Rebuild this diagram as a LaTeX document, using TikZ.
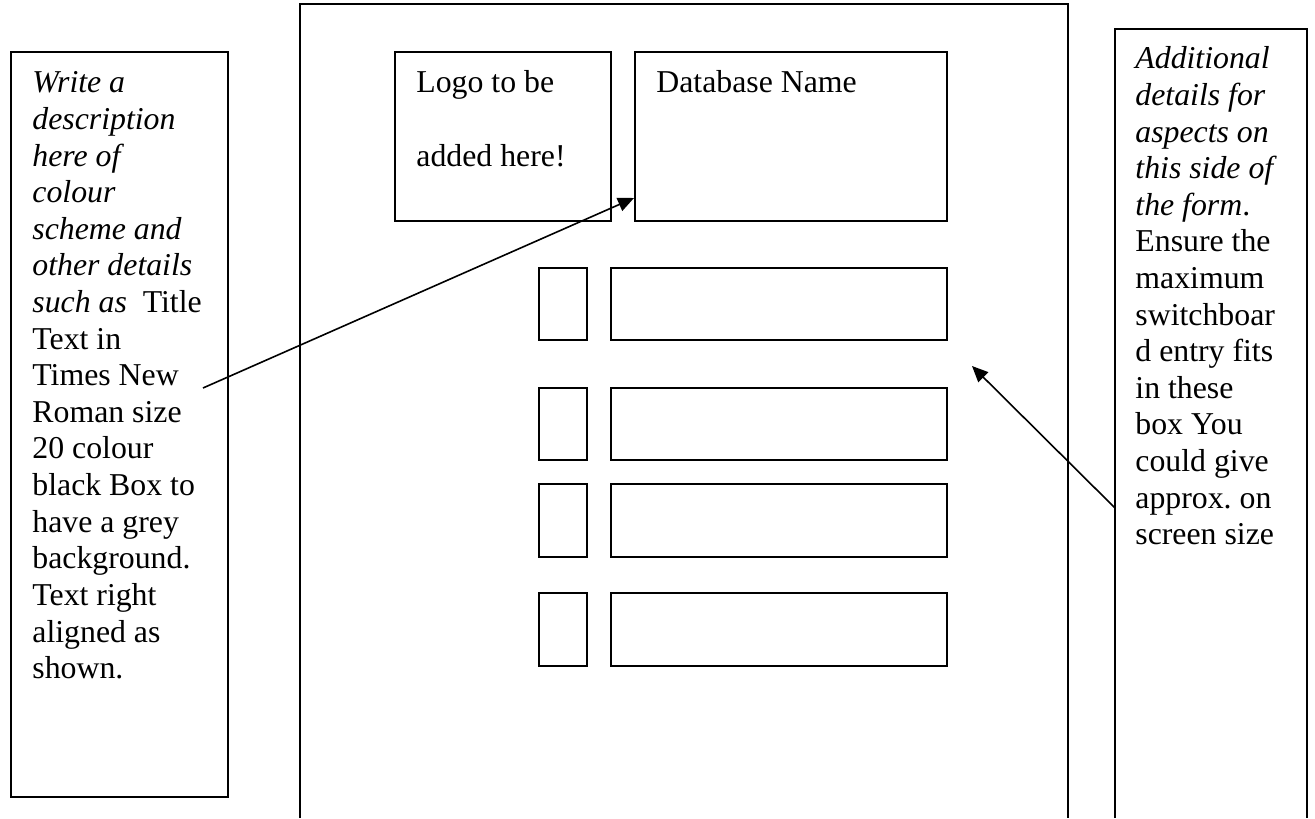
\documentclass[tikz,border=0pt]{standalone}
\usepackage{fontspec}
\setmainfont{Liberation Serif}
\usetikzlibrary{arrows.meta,calc}
\frenchspacing
\newcommand\txtblk[1]{\vtop{\hsize=400pt\parindent=0pt\fontsize{15.9pt}{18.3pt}\selectfont #1\par}}
\newcommand\txtdbl[1]{\vtop{\hsize=400pt\parindent=0pt\fontsize{15.9pt}{36.8pt}\selectfont #1\par}}
\begin{document}
\begin{tikzpicture}[x=0.5pt,y=-0.5pt,
  box/.style={draw, line width=0.9pt, inner sep=0pt, outer sep=0pt, anchor=north west},
  frame/.style={draw, line width=0.9pt},
  conn/.style={line width=0.8pt, -{Triangle[length=8pt,width=7pt]}},
  txt/.style={inner sep=0pt, anchor=base west}]
\useasboundingbox (0,0) rectangle (1315,818);
% outer frames
\draw[frame] (300,818) |- (1068,4) -- (1068,818);
\draw[frame] (1115,818) |- (1307,29) -- (1307,818);
\node[box, minimum width=108.5pt, minimum height=372.5pt] (left) at (11,52) {};
% top boxes
\node[box, minimum width=108pt, minimum height=84.5pt] (logo) at (395,52) {};
\node[box, minimum width=156pt, minimum height=84.5pt] (db) at (635,52) {};
% rows
\node[box, minimum width=24pt, minimum height=36pt] (s1) at (539,268) {};
\node[box, minimum width=168pt, minimum height=36pt] (w1) at (611,268) {};
\node[box, minimum width=24pt, minimum height=36pt] (s2) at (539,388) {};
\node[box, minimum width=168pt, minimum height=36pt] (w2) at (611,388) {};
\node[box, minimum width=24pt, minimum height=36.5pt] (s3) at (539,484) {};
\node[box, minimum width=168pt, minimum height=36.5pt] (w3) at (611,484) {};
\node[box, minimum width=24pt, minimum height=36.5pt] (s4) at (539,593) {};
\node[box, minimum width=168pt, minimum height=36.5pt] (w4) at (611,593) {};
% texts
\node[txt] (logotxt) at (416,93) {\txtdbl{Logo to be\\added here!}};
\node[txt] (dbtxt) at (656,93) {\txtblk{Database Name}};
\node[txt] (lefttxt) at (32,93) {\txtblk{{\itshape Write a\\description\\here of\\colour\\scheme and\\other details\\such as}\ \ Title\\Text in\\Times New\\Roman size\\20 colour\\black Box to\\have a grey\\background.\\Text right\\aligned as\\shown.}};
\node[txt] (righttxt) at (1135,69) {\txtblk{{\itshape Additional\\details for\\aspects on\\this side of\\the form}.\\Ensure the\\maximum\\switchboar\\d entry fits\\in these\\box You\\could give\\approx. on\\screen size}};
% connectors
\coordinate (a1s) at (203,388);
\coordinate (a1e) at ($(db.south west)+(-1,-23)$);
\draw[conn] (a1s) -- (a1e);
\coordinate (a2s) at (1115,508);
\coordinate (a2e) at (972,366);
\draw[conn] (a2s) -- (a2e);
\end{tikzpicture}
\end{document}
